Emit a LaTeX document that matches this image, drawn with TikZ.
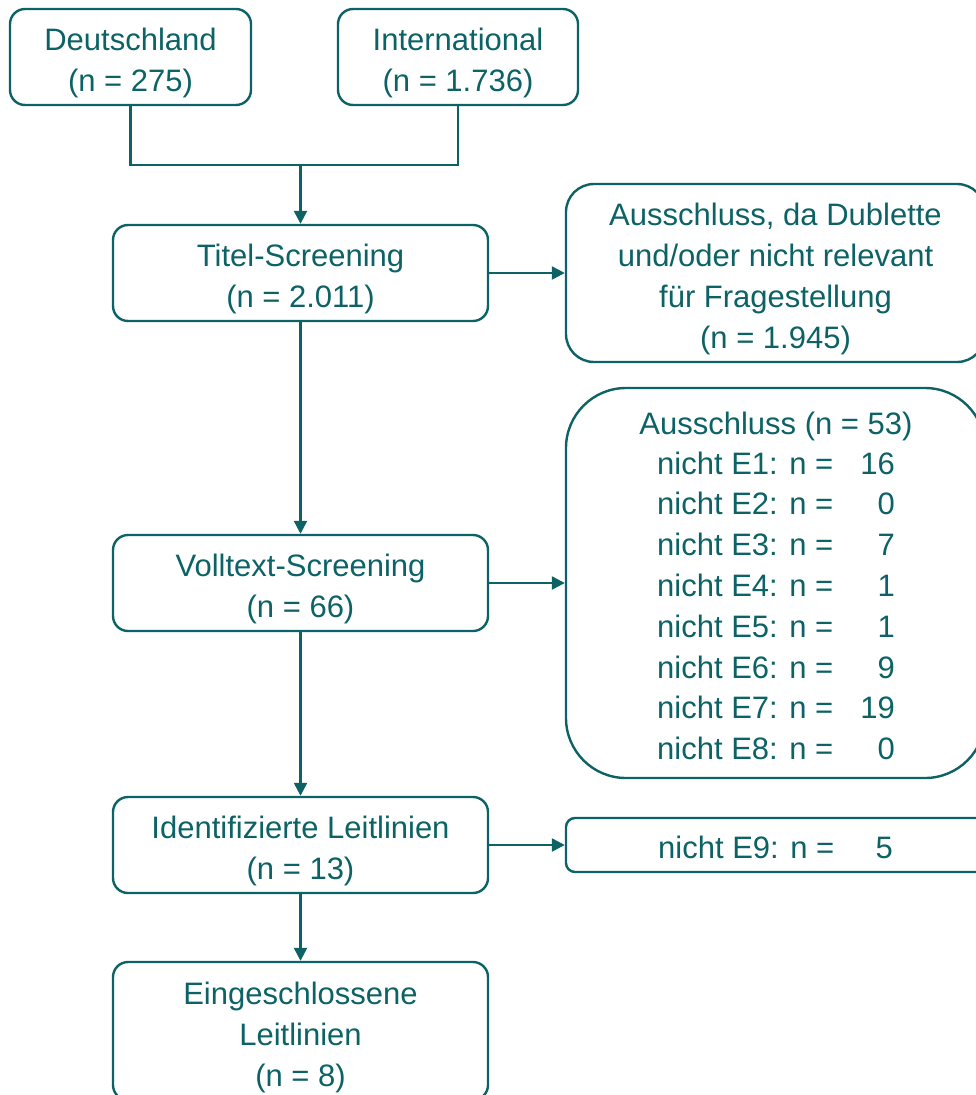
\documentclass[tikz,border=0pt]{standalone}
\usepackage{fontspec}
\setmainfont{Liberation Sans}
\usetikzlibrary{arrows.meta}
\definecolor{flowteal}{RGB}{12,98,100}
% centred lines, drawn a little lower than the box centre
\newcommand{\boxlines}[1]{\raisebox{-6pt}[\height][\depth]{\begin{tabular}{@{}c@{}}#1\end{tabular}}}
\tikzset{
  box/.style={draw=flowteal, line width=2.4pt, rounded corners=15pt, align=center,
    text=flowteal, font=\fontsize{31}{41}\selectfont, inner sep=0pt},
  label/.style={text=flowteal, font=\fontsize{31}{41}\selectfont, inner sep=0pt},
  wire/.style={draw=flowteal, line width=2.4pt},
  link/.style={wire, -{Triangle[length=13pt,width=13pt]}},
}
\begin{document}
\begin{tikzpicture}[x=1pt,y=-1pt]
  \clip (0,0) rectangle (976,1095);
  % sources
  \node[box, minimum width=241pt, minimum height=96pt] (de) at (130.5,57) {\boxlines{Deutschland\\(n = 275)}};
  \node[box, minimum width=240pt, minimum height=96pt] (int) at (458,57) {\boxlines{International\\(n = 1.736)}};
  \coordinate (join) at (300.5,165);
  \draw[wire] (de.south) |- (join) -| (int.south);

  % main column
  \node[box, minimum width=375pt, minimum height=96pt] (titel) at (300.5,273) {\boxlines{Titel-Screening\\(n = 2.011)}};
  \node[box, minimum width=375pt, minimum height=96pt] (voll) at (300.5,583) {\boxlines{Volltext-Screening\\(n = 66)}};
  \node[box, minimum width=375pt, minimum height=96pt] (ident) at (300.5,845) {\boxlines{Identifizierte Leitlinien\\(n = 13)}};
  \node[box, minimum width=375pt, minimum height=138pt] (eing) at (300.5,1031) {\boxlines{Eingeschlossene\\Leitlinien\\(n = 8)}};

  % exclusions
  \node[box, rounded corners=28pt, minimum width=419pt, minimum height=178pt] (ex1) at (775.5,273)
    {\boxlines{Ausschluss, da Dublette\\und/oder nicht relevant\\für Fragestellung\\(n = 1.945)}};
  \node[box, rounded corners=60pt, minimum width=419pt, minimum height=390pt] (ex2) at (775.5,583) {};
  \node[box, rounded corners=9pt, minimum width=419pt, minimum height=54pt] (ex3) at (775.5,845) {};

  \node[label, anchor=base] (exhead) at (776,434) {Ausschluss (n = 53)};
  \foreach \k/\v in {1/16, 2/0, 3/7, 4/1, 5/1, 6/9, 7/19, 8/0} {
    \node[label, anchor=base west] (exlab\k) at (657,{474+40.8*(\k-1)}) {nicht E\k: n =};
    \node[label, anchor=base east] (exnum\k) at (895,{474+40.8*(\k-1)}) {\v};
  }
  \node[label, anchor=base west] (e9lab) at (658,858) {nicht E9: n =};
  \node[label, anchor=base east] (e9num) at (893,858) {5};

  % connectors
  \draw[link] (join) -- (titel.north);
  \draw[link] (titel.east) -- (ex1.west);
  \draw[link] (titel.south) -- (voll.north);
  \draw[link] (voll.east) -- (ex2.west);
  \draw[link] (voll.south) -- (ident.north);
  \draw[link] (ident.east) -- (ex3.west);
  \draw[link] (ident.south) -- (eing.north);
\end{tikzpicture}
\end{document}
